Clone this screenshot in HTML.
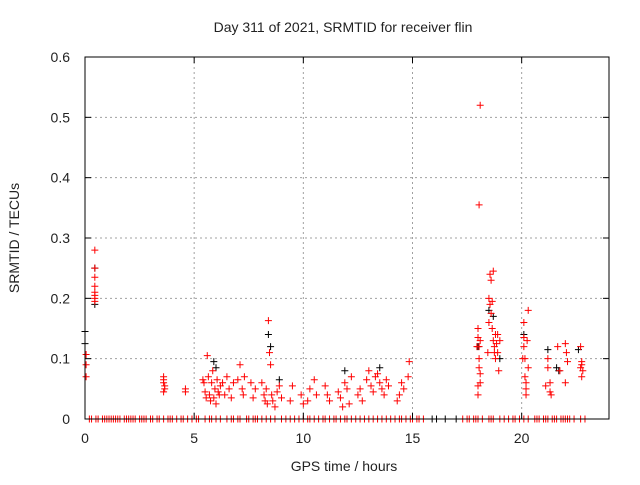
<!DOCTYPE html>
<html><head><meta charset="utf-8"><style>
body{margin:0;background:#fff}
svg text{font-family:"Liberation Sans",sans-serif;fill:#222}
</style></head><body>
<svg id="c" width="640" height="480" xmlns="http://www.w3.org/2000/svg">
<rect width="640" height="480" fill="#fff"/>
<g id="grid"></g><g id="pts"></g><g id="axes"></g>
</svg>
<script>
const xTicks=[0,5,10,15,20];
const yTicks=[0,0.1,0.2,0.3,0.4,0.5,0.6];
const yTickLabels=["0","0.1","0.2","0.3","0.4","0.5","0.6"];
const blackX=[0,0,0.45,0.45,5.9,6.0,8.4,8.5,8.9,11.9,13.5,18.0,18.5,18.7,19.0,20.1,21.2,21.6,21.7,22.6,15.9,16.1,16.5,17.0];
const blackY=[0.145,0.125,0.25,0.19,0.095,0.085,0.14,0.12,0.065,0.08,0.085,0.12,0.18,0.17,0.1,0.14,0.115,0.085,0.08,0.115,0,0,0,0];
const redX=[0.05,0.05,0.05,0.45,0.45,0.45,0.45,0.45,0.45,0.45,0.45,
3.6,3.6,3.6,3.65,3.65,3.6,4.6,4.6,
5.4,5.45,5.5,5.55,5.6,5.65,5.7,5.75,5.8,5.85,5.9,5.95,6.0,6.05,6.1,6.15,6.2,6.3,6.4,6.5,6.6,6.7,6.8,7.0,7.1,7.2,7.25,7.3,7.6,7.7,7.8,
8.1,8.2,8.25,8.3,8.35,8.4,8.45,8.5,8.55,8.6,8.7,8.8,8.9,9.0,9.4,9.5,9.9,10.0,10.2,10.3,10.5,10.6,
11.0,11.1,11.2,11.6,11.7,11.8,11.9,12.0,12.1,12.2,12.5,12.6,12.7,12.9,13.0,13.1,13.2,13.3,13.4,13.5,13.6,13.7,13.8,13.9,14.3,14.4,14.5,14.6,14.8,14.85,
17.95,18.0,18.0,18.0,18.05,18.05,18.05,18.1,18.1,18.1,18.0,18.1,18.05,
18.45,18.5,18.5,18.55,18.55,18.6,18.6,18.65,18.65,18.7,18.7,18.75,18.75,18.8,18.8,18.85,18.9,18.9,18.95,19.0,
20.05,20.1,20.1,20.15,20.15,20.2,20.2,20.25,20.3,20.3,20.1,20.2,
21.1,21.2,21.2,21.3,21.3,21.35,21.65,21.75,22.0,22.0,22.05,22.1,
22.7,22.7,22.75,22.8,22.75,22.75];
const redY=[0.107,0.09,0.07,0.28,0.25,0.235,0.22,0.21,0.205,0.2,0.195,
0.07,0.065,0.06,0.055,0.05,0.045,0.05,0.045,
0.065,0.06,0.045,0.035,0.105,0.07,0.04,0.03,0.06,0.08,0.035,0.05,0.025,0.065,0.045,0.04,0.055,0.06,0.04,0.07,0.05,0.035,0.06,0.065,0.09,0.05,0.04,0.07,0.06,0.035,0.05,
0.06,0.04,0.03,0.05,0.025,0.163,0.11,0.09,0.04,0.03,0.02,0.045,0.055,0.035,0.03,0.055,0.04,0.025,0.03,0.05,0.065,0.04,
0.055,0.04,0.03,0.045,0.035,0.02,0.06,0.05,0.025,0.07,0.04,0.05,0.03,0.065,0.08,0.055,0.045,0.07,0.075,0.06,0.05,0.04,0.065,0.055,0.03,0.04,0.06,0.05,0.07,0.095,0.12,
0.04,0.15,0.135,0.12,0.1,0.085,0.075,0.13,0.06,0.055,0.52,0.355,0.11,
0.16,0.2,0.19,0.24,0.23,0.175,0.15,0.195,0.13,0.245,0.12,0.11,0.14,0.1,0.125,0.11,0.14,0.08,0.13,0.1,
0.16,0.135,0.1,0.07,0.06,0.05,0.13,0.18,0.085,0.12,0.04,0.055,
0.1,0.085,0.045,0.06,0.04,0.12,0.08,0.06,0.125,0.11,0.095,0.085,
0.12,0.095,0.08,0.09,0.07,0.03];
const zeroX=[0.2,0.3,0.5,0.6,0.8,0.9,1.0,1.1,1.2,1.3,1.4,1.5,1.6,1.8,1.9,2.0,2.1,2.2,2.3,2.5,2.6,2.7,2.8,3.0,3.1,3.3,3.4,3.6,3.8,3.9,4.0,4.2,4.4,4.5,4.7,4.9,5.1,5.2,5.5,5.7,5.8,6.0,6.2,6.5,6.7,6.8,7.0,7.1,7.4,7.5,7.7,7.8,7.9,8.1,8.3,8.5,8.7,9.0,9.2,9.4,9.6,9.8,10.0,10.2,10.3,10.5,10.7,10.9,11.0,11.2,11.4,11.5,11.7,11.9,12.0,12.2,12.4,12.6,12.8,13.0,13.2,13.4,13.6,13.8,14.0,14.2,14.4,14.5,14.7,14.9,15.0,15.2,15.3,15.5,17.3,17.5,17.6,17.8,17.9,18.0,18.2,18.5,18.6,18.7,19.0,19.2,19.4,19.6,19.7,19.9,20.1,20.3,20.6,20.7,20.8,21.0,21.1,21.2,21.4,21.5,21.6,21.8,21.9,22.0,22.1,22.2,22.4,22.7,22.9];
const X0=85,X1=609,Y0=419,Y1=57,XMAX=24,YMAX=0.6;
const sx=v=>X0+v/XMAX*(X1-X0), sy=v=>Y0-v/YMAX*(Y0-Y1);
const NS="http://www.w3.org/2000/svg";
function mk(p,t,a){const e=document.createElementNS(NS,t);for(const k in a)e.setAttribute(k,a[k]);p.appendChild(e);return e;}
const grid=document.getElementById('grid'),pts=document.getElementById('pts'),axes=document.getElementById('axes'),svg=document.getElementById('c');
xTicks.forEach(t=>{const x=sx(t);
 if(t>0){const g=mk(grid,'line',{x1:x,x2:x,y1:Y1,y2:Y0,stroke:'#a0a0a0','stroke-dasharray':'2,3'});
 }
 mk(axes,'line',{x1:x,x2:x,y1:Y0,y2:Y0-6,stroke:'#000'});mk(axes,'line',{x1:x,x2:x,y1:Y1,y2:Y1+6,stroke:'#000'});
 const l=mk(axes,'text',{x:x,y:443,'text-anchor':'middle','font-size':'14'});l.textContent=t;
 });
yTicks.forEach((t,i)=>{const y=sy(t);
 if(t>0&&t<YMAX){const g=mk(grid,'line',{x1:X0,x2:X1,y1:y,y2:y,stroke:'#a0a0a0','stroke-dasharray':'2,3'});
 }
 mk(axes,'line',{x1:X0,x2:X0+6,y1:y,y2:y,stroke:'#000'});mk(axes,'line',{x1:X1,x2:X1-6,y1:y,y2:y,stroke:'#000'});
 const l=mk(axes,'text',{x:70,y:y+5,'text-anchor':'end','font-size':'14'});l.textContent=yTickLabels[i];
 });
const fr=mk(axes,'rect',{x:X0,y:Y1,width:X1-X0,height:Y0-Y1,fill:'none',stroke:'#000'});

function plus(x,y,c,name){const p=mk(pts,'path',{d:`M${x-3.5},${y}h7M${x},${y-3.5}v7`,stroke:c,'stroke-width':1});
 }
blackX.forEach((v,i)=>plus(sx(v),sy(blackY[i]),'#000','black-point'));
redX.forEach((v,i)=>plus(sx(v),sy(redY[i]),'#f00','red-point'));
zeroX.forEach(v=>plus(sx(v),sy(0),'#f00','zero-point'));
const t=mk(svg,'text',{x:343,y:32,'text-anchor':'middle','font-size':'14'});t.textContent='Day 311 of 2021, SRMTID for receiver flin';

const xl=mk(svg,'text',{x:344,y:471,'text-anchor':'middle','font-size':'14'});xl.textContent='GPS time / hours';

const yl=mk(svg,'text',{x:19,y:238,'text-anchor':'middle','font-size':'14',transform:'rotate(-90 19 238)'});yl.textContent='SRMTID / TECUs';

</script>
</body></html>
